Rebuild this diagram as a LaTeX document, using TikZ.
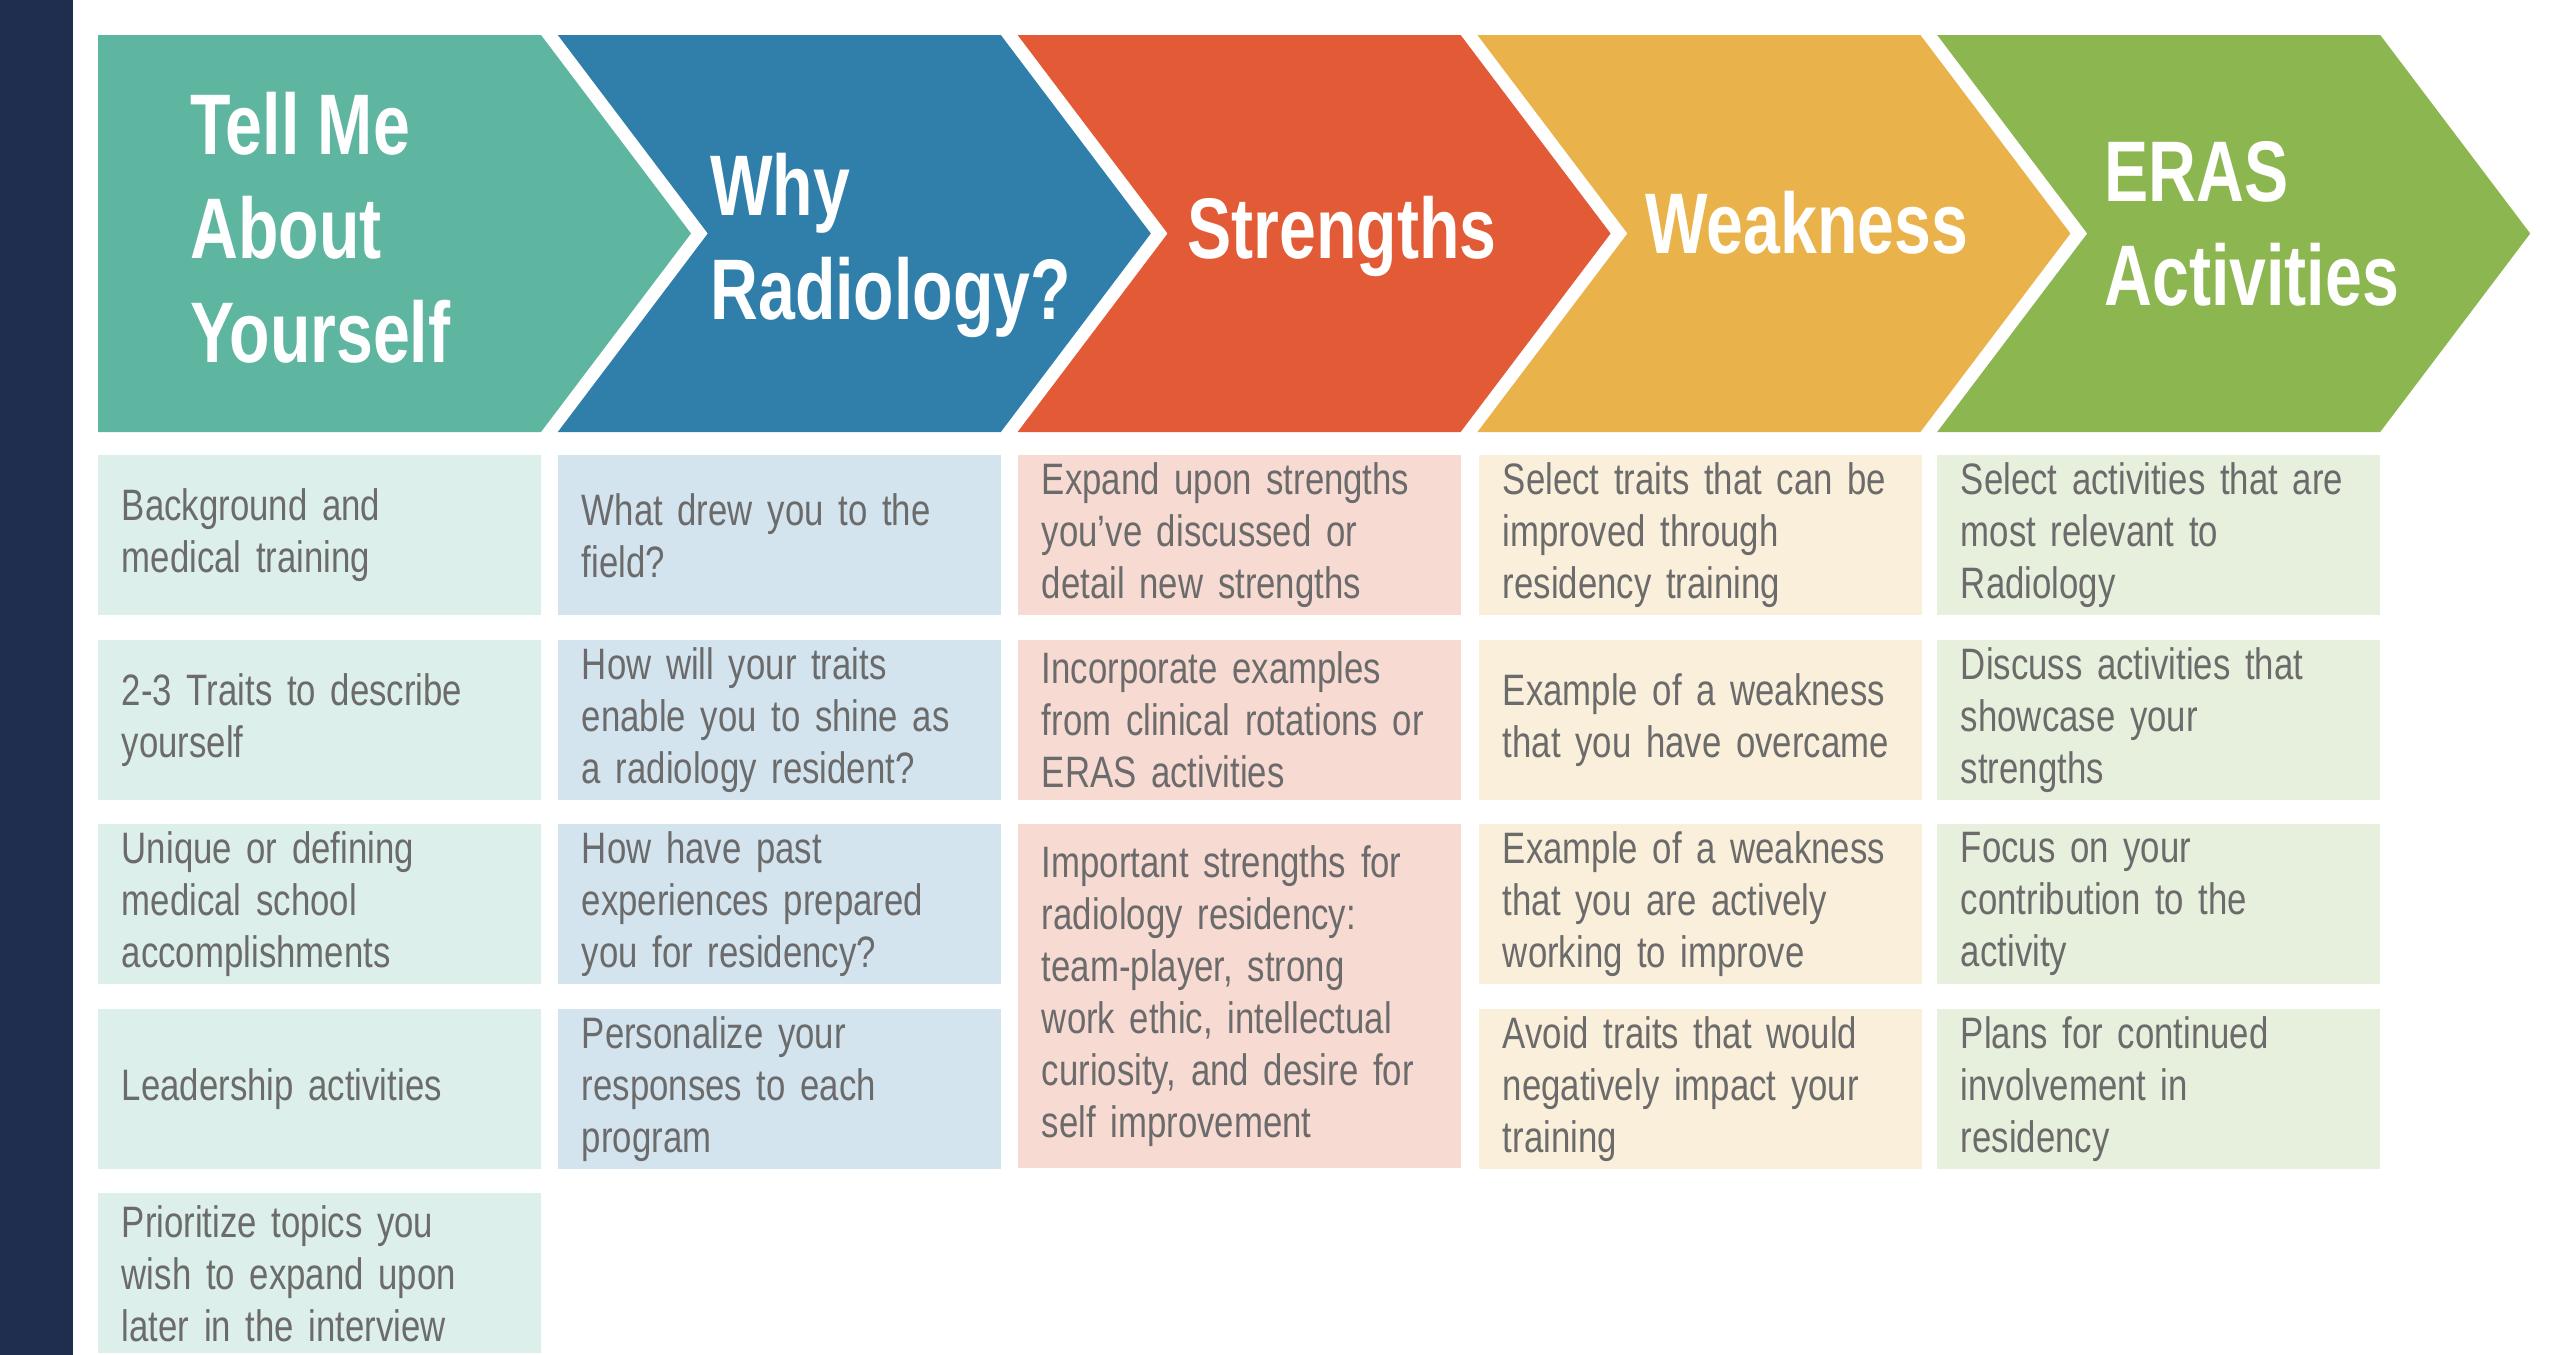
\documentclass[tikz,border=0pt]{standalone}
\usepackage{fontspec}
\setmainfont{Liberation Sans}[FakeStretch=0.79, WordSpace=0.85]
\newfontfamily\headfont{Liberation Sans}[FakeStretch=0.77]
\hyphenpenalty=10000
\exhyphenpenalty=10000

\definecolor{navybar}{HTML}{1F2D4F}
\definecolor{tellhead}{HTML}{5FB6A0}
\definecolor{whyhead}{HTML}{2F7FAA}
\definecolor{stronghead}{HTML}{E25B36}
\definecolor{weakhead}{HTML}{EAB24A}
\definecolor{erashead}{HTML}{8CB650}
\definecolor{tellcell}{HTML}{DDEFEA}
\definecolor{whycell}{HTML}{D3E4EF}
\definecolor{strongcell}{HTML}{F7DBD3}
\definecolor{weakcell}{HTML}{FAEFDA}
\definecolor{erascell}{HTML}{E7F0DC}
\definecolor{celltext}{HTML}{6B6B6B}

\begin{document}
\begin{tikzpicture}
    [
      x=0.5pt, y=-0.5pt,
      cell/.style={anchor=north west, fill=#1, text=celltext, text width=198pt, inner xsep=11.75pt, inner ysep=0pt,
        minimum height=80pt, align=left, font=\fontsize{22}{26}\selectfont},
      head/.style={anchor=west, text=white, align=left, inner sep=0pt, font=\headfont\bfseries\fontsize{43}{52}\selectfont}
    ]
    \fill[white] (0,0) rectangle (2550,1355);
    \useasboundingbox (0,0) rectangle (2550,1355);
    \fill[navybar] (0,0) rectangle (73,1355);
    % arrows
    \fill[tellhead] (98,35) -- (541,35) -- (691,233.5) -- (541,432) -- (98,432) -- cycle;
    \foreach \k/\c in {1/whyhead,2/stronghead,3/weakhead,4/erashead}
      \fill[\c] (98+459.8*\k,35) -- ++(443,0) -- ++(150,198.5) -- ++(-150,198.5) -- ++(-443,0) -- ++(150,-198.5) -- cycle;
    \node (tell) [head] at (190,228) {Tell Me\\About\\Yourself};
    \node (why) [head] at (710,245) {Why\\Radiology?};
    \node (strong) [head] at (1187,236) {Strengths};
    \node (weak) [head] at (1645,223) {Weakness};
    \node (eras) [head] at (2104,224) {ERAS\\Activities};
    % columns
    \foreach \r/\txt in {0/{Background and\\medical training}, 1/{2-3 Traits to describe\\yourself},
        2/{Unique or defining\\medical school\\accomplishments}, 3/{Leadership activities},
        4/{Prioritize topics you\\wish to expand upon\\later in the interview}}
      \node (tell\r) [cell=tellcell] at (98,455+184.5*\r) {\txt};
    \foreach \r/\txt in {0/{What drew you to the\\field?}, 1/{How will your traits\\enable you to shine as\\a radiology resident?},
        2/{How have past\\experiences prepared\\you for residency?}, 3/{Personalize your\\responses to each\\program}}
      \node (why\r) [cell=whycell] at (558,455+184.5*\r) {\txt};
    \foreach \r/\txt in {0/{Expand upon strengths\\you’ve discussed or\\detail new strengths},
        1/{Incorporate examples\\from clinical rotations or\\ERAS activities}}
      \node (strong\r) [cell=strongcell] at (1018,455+184.5*\r) {\txt};
    \node (strong2) [cell=strongcell, minimum height=172pt] at (1018,824)
      {Important strengths for\\radiology residency:\\team-player, strong\\work ethic, intellectual\\curiosity, and desire for\\self improvement};
    \foreach \r/\txt in {0/{Select traits that can be\\improved through\\residency training}, 1/{Example of a weakness\\that you have overcame},
        2/{Example of a weakness\\that you are actively\\working to improve}, 3/{Avoid traits that would\\negatively impact your\\training}}
      \node (weak\r) [cell=weakcell] at (1479,455+184.5*\r) {\txt};
    \foreach \r/\txt in {0/{Select activities that are\\most relevant to\\Radiology}, 1/{Discuss activities that\\showcase your\\strengths},
        2/{Focus on your\\contribution to the\\activity}, 3/{Plans for continued\\involvement in\\residency}}
      \node (eras\r) [cell=erascell] at (1937,455+184.5*\r) {\txt};
\end{tikzpicture}
\end{document}
